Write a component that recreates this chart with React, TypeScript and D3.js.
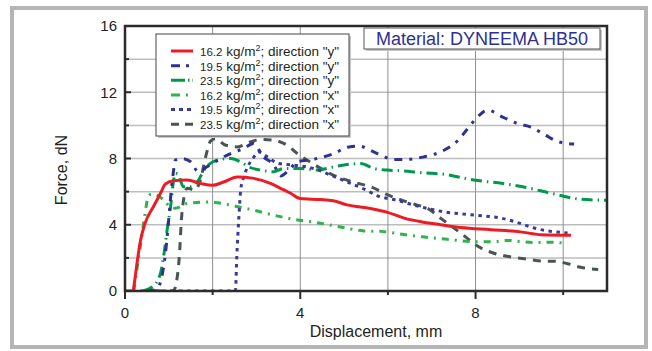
import React from 'react'
import * as d3 from 'd3'

// Force vs displacement: [displacement mm, force dN]
const s162y: [number, number][] = [
  [0.19, 0], [0.27, 1.6], [0.35, 3.0], [0.46, 4.1], [0.65, 5.1], [0.81, 5.9], [0.92, 6.45], [1.1, 6.65],
  [1.42, 6.7], [1.72, 6.5], [1.99, 6.38], [2.25, 6.58], [2.56, 6.88], [2.94, 6.8], [3.32, 6.5], [3.55, 6.2],
  [3.78, 5.9], [4.0, 5.58], [4.46, 5.52], [4.75, 5.45], [5.07, 5.2], [5.6, 4.98], [5.99, 4.75], [6.37, 4.4],
  [6.82, 4.15], [7.2, 4.0], [7.66, 3.83], [8.35, 3.7], [9.03, 3.57], [9.49, 3.4], [10.18, 3.37],
]
const s195y: [number, number][] = [
  [0.5, 0], [0.72, 0.1], [0.85, 1.0], [0.92, 2.2], [0.98, 3.8], [1.02, 5.0], [1.06, 6.2], [1.1, 7.1],
  [1.15, 7.9], [1.3, 8.0], [1.5, 7.8], [1.67, 7.2], [1.87, 7.5], [2.15, 7.95], [2.41, 8.3], [2.7, 8.6],
  [2.93, 8.9], [3.16, 8.1], [3.4, 7.6], [3.55, 6.95], [3.74, 7.3], [3.93, 7.8], [4.3, 7.95], [4.73, 8.26],
  [5.11, 8.7], [5.33, 8.75], [5.76, 8.3], [6.14, 7.94], [6.4, 7.94], [6.82, 8.1], [7.28, 8.5], [7.59, 9.07],
  [7.82, 9.8], [8.08, 10.6], [8.27, 10.92], [8.62, 10.5], [8.99, 10.08], [9.26, 9.9], [9.6, 9.4], [9.9, 9.0],
  [10.25, 8.87],
]
const s235y: [number, number][] = [
  [0.4, 0], [0.62, 0.24], [0.81, 1.07], [0.88, 2.06], [0.96, 3.67], [1.04, 5.08], [1.11, 6.7], [1.15, 7.1],
  [1.22, 7.0], [1.33, 6.3], [1.5, 6.3], [1.65, 6.6], [1.83, 7.4], [2.1, 7.9], [2.41, 8.0], [2.7, 7.7],
  [2.82, 7.5], [3.1, 7.3], [3.39, 7.2], [3.62, 7.4], [4.0, 7.4], [4.39, 7.3], [4.77, 7.5], [5.15, 7.66],
  [5.38, 7.7], [5.68, 7.4], [5.99, 7.3], [6.29, 7.26], [6.82, 7.13], [7.28, 7.05], [7.96, 6.7], [8.62, 6.49],
  [9.19, 6.23], [9.72, 5.9], [10.4, 5.54], [11.0, 5.48],
]
const s162x: [number, number][] = [
  [0.2, 0], [0.27, 1.3], [0.35, 2.7], [0.45, 4.5], [0.52, 5.6], [0.6, 5.85], [0.75, 5.75], [0.9, 5.45],
  [1.0, 5.15], [1.15, 5.0], [1.42, 5.28], [1.9, 5.38], [2.52, 5.12], [2.94, 4.88], [3.39, 4.58], [3.85, 4.33],
  [4.46, 4.09], [4.85, 3.9], [5.45, 3.63], [5.84, 3.6], [6.45, 3.37], [6.79, 3.27], [7.36, 3.12], [7.96, 2.98],
  [8.4, 2.98], [8.73, 3.05], [9.34, 2.92], [9.68, 2.95], [10.1, 2.87],
]
const s195x: [number, number][] = [
  [0.5, 0], [2.52, 0], [2.55, 2.0], [2.6, 4.5], [2.64, 6.1], [2.7, 6.8], [2.8, 7.5], [2.92, 8.0],
  [3.05, 8.4], [3.25, 8.1], [3.5, 7.7], [3.85, 7.6], [4.3, 7.4], [4.69, 7.0], [5.15, 6.5], [5.5, 6.1],
  [5.76, 5.75], [6.2, 5.48], [6.75, 5.08], [7.28, 4.78], [7.97, 4.58], [8.58, 4.4], [9.0, 4.1], [9.34, 3.8],
  [10.1, 3.5],
]
const s235x: [number, number][] = [
  [0, 0], [1.1, 0], [1.2, 1.0], [1.25, 2.5], [1.28, 4.0], [1.32, 5.2], [1.42, 6.2], [1.6, 6.1],
  [1.72, 6.7], [1.85, 8.2], [1.95, 9.05], [2.06, 9.2], [2.3, 8.8], [2.56, 8.7], [2.86, 9.0], [3.1, 9.15],
  [3.39, 9.1], [3.7, 8.8], [3.93, 8.3], [4.28, 7.7], [4.75, 7.0], [5.32, 6.5], [5.6, 6.3], [6.0, 5.8],
  [6.3, 5.5], [6.65, 5.2], [6.9, 5.0], [7.2, 4.4], [7.66, 3.5], [8.12, 2.6], [8.42, 2.28], [8.8, 2.06],
  [9.19, 1.92], [9.6, 1.8], [9.8, 1.8], [10.1, 1.65], [10.4, 1.43], [10.8, 1.3],
]

const densities = ['16.2', '19.5', '23.5', '16.2', '19.5', '23.5']
const directions = ['y', 'y', 'y', 'x', 'x', 'x']
const xTicks = [0, 4, 8]
const yTicks = [0, 4, 8, 12, 16]
const title = 'Material: DYNEEMA HB50'

const series = [
  { data: s162y, color: '#ed1c24', dash: '', legDash: '' },
  { data: s195y, color: '#2e3192', dash: '8 7 3 7', legDash: '9 6 3 6' },
  { data: s235y, color: '#00994c', dash: '11 5 1.5 5', legDash: '14 3 1.5 3' },
  { data: s162x, color: '#2fb34a', dash: '7 6 2 6', legDash: '9 6 2 6' },
  { data: s195x, color: '#3a3a9a', dash: '3.5 4.5', legDash: '4 4' },
  { data: s235x, color: '#4a5453', dash: '8 7', legDash: '8 6' },
]
// draw order: red on top
const drawOrder = [5, 3, 2, 4, 1, 0]

const W = 652
const H = 351
const m = { left: 125, right: 607, top: 26, bottom: 291 }

export default function App() {
  const x = d3.scaleLinear().domain([0, 11]).range([m.left, m.right])
  const y = d3.scaleLinear().domain([0, 16]).range([m.bottom, m.top])
  const line = d3.line<[number, number]>()
    .x(d => x(d[0]))
    .y(d => y(d[1]))
    .curve(d3.curveMonotoneX)

  const gridX = d3.range(2, 11, 2)
  const gridY = d3.range(2, 16, 2)
  const font = 'Liberation Sans, Arial, sans-serif'

  const legX = 156, legY = 34, legW = 193, legH = 102
  const rowY = (i: number) => 51 + i * 14.65

  return (
    <svg width={W} height={H} style={{ position: 'absolute', left: 0, top: 0 }} fontFamily={font}>
      <rect x={0} y={0} width={W} height={H} fill='#fff' />
      <rect x={12} y={8} width={634} height={339} fill='#fff' stroke='#b5b5b5' strokeWidth={4} />
      <defs>
        <clipPath id='plot'>
          <rect x={m.left} y={m.top} width={m.right - m.left} height={m.bottom - m.top} />
        </clipPath>
      </defs>
      {/* grid */}
      {gridY.map(v => (
        <line key={'gy' + v} x1={m.left} x2={m.right} y1={y(v)} y2={y(v)} stroke='#bdbdbd' strokeWidth={1.5} />
      ))}
      {gridX.map(v => (
        <line key={'gx' + v} x1={x(v)} x2={x(v)} y1={m.top} y2={m.bottom} stroke='#8f8f8f' strokeWidth={1} />
      ))}
      {/* curves */}
      <g clipPath='url(#plot)'>
        {drawOrder.map(i => (
          <path key={'s' + i} d={line(series[i].data) || ''} fill='none' stroke={series[i].color}
            strokeWidth={3} strokeDasharray={series[i].dash} strokeLinejoin='round' />
        ))}
      </g>
      {/* frame */}
      <rect x={m.left} y={m.top} width={m.right - m.left} height={m.bottom - m.top} fill='none'
        stroke='#2b2b2b' strokeWidth={2.5} />
      {/* y ticks, inward */}
      {d3.range(0, 17, 2).map(v => (
        <line key={'yt' + v} x1={m.left} x2={m.left + (v % 4 === 0 ? 6 : 4)} y1={y(v)} y2={y(v)}
          stroke='#2b2b2b' strokeWidth={2} />
      ))}
      {/* x ticks, outward */}
      {d3.range(0, 11, 2).map(v => (
        <line key={'xt' + v} x1={x(v)} x2={x(v)} y1={m.bottom} y2={m.bottom + (v % 4 === 0 ? 8 : 4)}
          stroke='#2b2b2b' strokeWidth={2} />
      ))}
      {yTicks.map(v => (
        <text key={'yl' + v} x={117} y={y(v)} dy='0.36em' textAnchor='end' fontSize={15} fill='#231f20'>{v}</text>
      ))}
      {xTicks.map(v => (
        <text key={'xl' + v} x={x(v)} y={318} textAnchor='middle' fontSize={15} fill='#231f20'>{v}</text>
      ))}
      <text x={(m.left + m.right) / 2 + 10} y={337} textAnchor='middle' fontSize={16} fill='#231f20'>Displacement, mm</text>
      <text transform={`translate(67,170) rotate(-90)`} textAnchor='middle' fontSize={16} fill='#231f20'>Force, dN</text>
      {/* title box */}
      <rect x={366} y={30} width={236} height={21} fill='#c8c8c8' />
      <rect x={364} y={28} width={236} height={21} fill='#fff' stroke='#555' strokeWidth={1} />
      <text x={482} y={45} textAnchor='middle' fontSize={18} fill='#2e3192'>{title}</text>
      {/* legend */}
      <rect x={legX + 2} y={legY + 2} width={legW} height={legH} fill='#c8c8c8' />
      <rect x={legX} y={legY} width={legW} height={legH} fill='#fff' stroke='#444' strokeWidth={1} />
      {series.map((s, i) => (
        <g key={'lg' + i}>
          <line x1={171} x2={193} y1={rowY(i)} y2={rowY(i)} stroke={s.color} strokeWidth={3}
            strokeDasharray={s.legDash} />
          <text x={200} y={rowY(i)} dy='0.36em' fontSize={13.5} fill='#231f20'>
            <tspan fontSize={11.5}>{densities[i]}</tspan>
            {' kg/m'}
            <tspan fontSize={9} dy={-5}>2</tspan>
            <tspan dy={5}>{'; direction "' + directions[i] + '"'}</tspan>
          </text>
        </g>
      ))}
    </svg>
  )
}
